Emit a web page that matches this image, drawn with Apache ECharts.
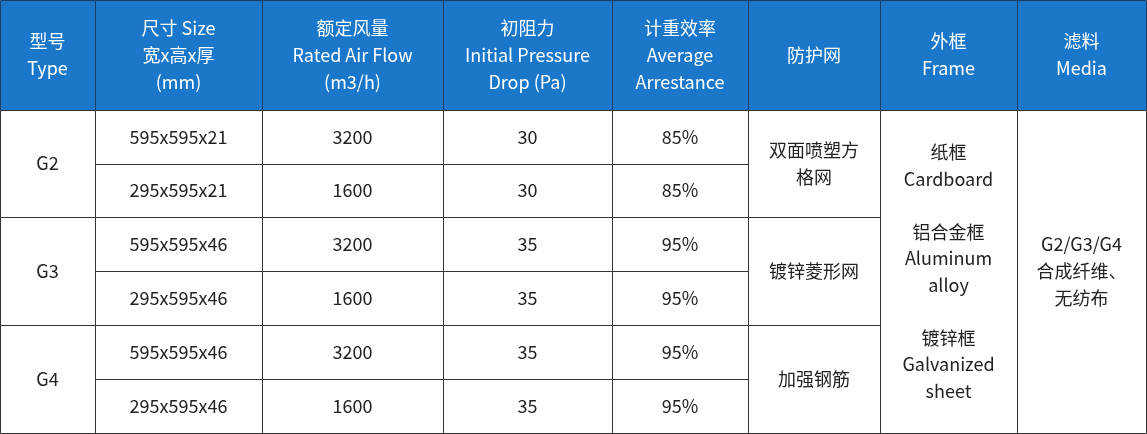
<!DOCTYPE html>
<html><head><meta charset="utf-8">
<script src="https://cdn.jsdelivr.net/npm/echarts@6/dist/echarts.min.js"></script>
<style>html,body{margin:0;padding:0;background:#fff}#c{width:1147px;height:434px}</style>
</head><body><div id="c"></div>
<script>
const colEdges = [0, 95, 262, 443, 612, 748, 880, 1017, 1146];
const rowEdges = [0, 110, 164, 217, 271, 325, 379, 433];
const headers = ["型号\nType", "尺寸 Size\n宽x高x厚\n(mm)", "额定风量\nRated Air Flow\n(m3/h)", "初阻力\nInitial Pressure\nDrop (Pa)", "计重效率\nAverage\nArrestance", "防护网", "外框\nFrame", "滤料\nMedia"];
const types = ["G2", "G3", "G4"];
const sizes = ["595x595x21", "295x595x21", "595x595x46", "295x595x46", "595x595x46", "295x595x46"];
const airFlow = [3200, 1600, 3200, 1600, 3200, 1600];
const pressureDrop = [30, 30, 35, 35, 35, 35];
const arrestance = ["85%", "85%", "95%", "95%", "95%", "95%"];
const mesh = ["双面喷塑方\n格网", "镀锌菱形网", "加强钢筋"];
const frame = "纸框\nCardboard\n\n铝合金框\nAluminum\nalloy\n\n镀锌框\nGalvanized\nsheet";
const media = "G2/G3/G4\n合成纤维、\n无纺布";

// cell: [col0, col1, row0, row1, text, isHeader]
const cells = [];
headers.forEach((h, i) => cells.push([i, i + 1, 0, 1, h, 1]));
types.forEach((t, i) => cells.push([0, 1, 1 + 2 * i, 3 + 2 * i, t, 0]));
for (let r = 0; r < 6; r++) {
  cells.push([1, 2, 1 + r, 2 + r, sizes[r], 0]);
  cells.push([2, 3, 1 + r, 2 + r, String(airFlow[r]), 0]);
  cells.push([3, 4, 1 + r, 2 + r, String(pressureDrop[r]), 0]);
  cells.push([4, 5, 1 + r, 2 + r, arrestance[r], 0]);
}
mesh.forEach((m, i) => cells.push([5, 6, 1 + 2 * i, 3 + 2 * i, m, 0]));
cells.push([6, 7, 1, 7, frame, 0]);
cells.push([7, 8, 1, 7, media, 0]);

const data = cells.map(c => [colEdges[c[0]], colEdges[c[1]], rowEdges[c[2]], rowEdges[c[3]], c[4], c[5]]);
const FONT = '"Noto Sans CJK SC", "Noto Sans", sans-serif';

const chart = echarts.init(document.getElementById('c'));
chart.setOption({
  animation: false,
  grid: { left: 0, right: 0, top: 0, bottom: 0 },
  xAxis: { type: 'value', min: 0, max: 1147, show: false },
  yAxis: { type: 'value', min: 0, max: 434, inverse: true, show: false },
  series: [{
    type: 'custom',
    data: data,
    renderItem: function (params, api) {
      const p0 = api.coord([api.value(0), api.value(2)]);
      const p1 = api.coord([api.value(1), api.value(3)]);
      const hdr = api.value(5) === 1;
      const txt = data[params.dataIndex][4];
      const frameCell = txt === frame;
      return {
        type: 'group',
        children: [{
          type: 'rect',
          shape: { x: p0[0] + 0.5, y: p0[1] + 0.5, width: p1[0] - p0[0], height: p1[1] - p0[1] },
          style: { fill: hdr ? '#1a77c9' : '#fff', stroke: hdr ? '#1a3f66' : '#333', lineWidth: 1 }
        }, {
          type: 'text',
          x: (p0[0] + p1[0]) / 2, y: (p0[1] + p1[1]) / 2,
          style: {
            text: txt, align: 'center', verticalAlign: 'middle',
            fill: hdr ? '#fff' : '#222', font: '18px ' + FONT,
            lineHeight: hdr ? 27 : (frameCell ? 26.5 : 27)
          }
        }]
      };
    }
  }]
});
</script></body></html>
